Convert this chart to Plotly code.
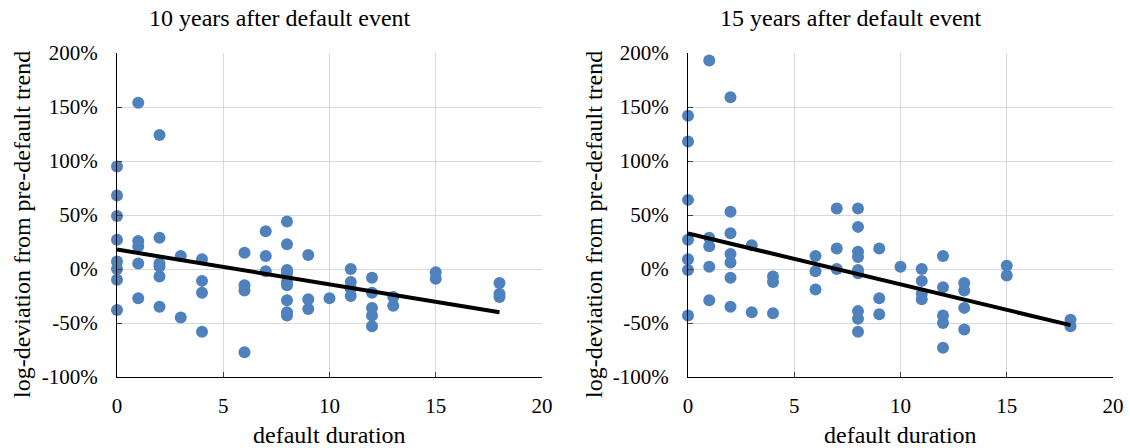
import plotly.graph_objects as go

# ---------------- data (percent) ----------------
x10 = [0]*8 + [1]*5 + [2]*6 + [3]*2 + [4]*4 + [6]*4 + [7]*3 + [8]*9 + [9]*3 + [10] + [11]*4 + [12]*5 + [13]*2 + [15]*2 + [18]*3
y10 = [95, 68, 49, 27, 7, 0, -10, -38,
       154, 26, 21, 5, -27,
       124, 29, 5, 2, -7, -35,
       12, -45,
       9, -11, -22, -58,
       15, -15, -20, -77,
       35, 12, -2,
       44, 23, -1, -4, -12, -15, -29, -40, -43,
       13, -28, -37,
       -27,
       0, -12, -18, -25,
       -8, -22, -36, -43, -53,
       -26, -34,
       -3, -9,
       -13, -23, -26]

x15 = [0]*7 + [1]*5 + [2]*7 + [3]*2 + [4]*3 + [6]*3 + [7]*3 + [8]*9 + [9]*3 + [10] + [11]*4 + [12]*5 + [13]*4 + [15]*2 + [18]*2
y15 = [142, 118, 64, 27, 9, -1, -43,
       193, 29, 21, 2, -29,
       159, 53, 33, 14, 6, -8, -35,
       22, -40,
       -7, -12, -41,
       12, -2, -19,
       56, 19, 0,
       56, 39, 16, 11, -1, -4, -39, -46, -58,
       19, -27, -42,
       2,
       0, -11, -23, -28,
       12, -17, -43, -50, -73,
       -13, -20, -36, -56,
       3, -6,
       -47, -53]

trend_x = [0, 18]
trend10 = [18, -40]
trend15 = [33, -52]

titles = ["10 years after default event", "15 years after default event"]
x_title = "default duration"
y_title = "log-deviation from pre-default trend"
x_ticks = [0, 5, 10, 15, 20]
x_ticklabels = ["0", "5", "10", "15", "20"]
y_ticks = [-100, -50, 0, 50, 100, 150, 200]
y_ticklabels = ["-100%", "-50%", "0%", "50%", "100%", "150%", "200%"]

# ---------------- style ----------------
FONT = "Liberation Serif"
DOT = "#4F81BD"
GRID = "#D9D9D9"
W, H = 1130, 448

fig = go.Figure()
for xs, ys, tr, xa, ya in [(x10, y10, trend10, "x", "y"), (x15, y15, trend15, "x2", "y2")]:
    fig.add_trace(go.Scatter(x=xs, y=ys, mode="markers", xaxis=xa, yaxis=ya,
                             marker=dict(color=DOT, size=12, line=dict(width=0)),
                             cliponaxis=False, showlegend=False))
    fig.add_trace(go.Scatter(x=trend_x, y=tr, mode="lines", xaxis=xa, yaxis=ya,
                             line=dict(color="black", width=4),
                             cliponaxis=False, showlegend=False))

ydom = [(H - 377) / H, (H - 53) / H]
xdoms = [[117 / W, 542 / W], [688 / W, 1113 / W]]

fig.update_layout(width=W, height=H, autosize=False,
                  margin=dict(l=0, r=0, t=0, b=0, pad=0, autoexpand=False),
                  paper_bgcolor="white", plot_bgcolor="white", showlegend=False,
                  font=dict(family=FONT, size=21, color="black"))

for i, suf in enumerate(["", "2"]):
    fig.layout["xaxis" + suf] = dict(domain=xdoms[i], range=[0, 20], anchor="y" + suf,
                                     tickmode="array", tickvals=x_ticks, ticktext=x_ticklabels)
    fig.layout["yaxis" + suf] = dict(domain=ydom, range=[-100, 200], anchor="x" + suf,
                                     tickmode="array", tickvals=y_ticks, ticktext=y_ticklabels)

common = dict(showgrid=True, gridcolor=GRID, gridwidth=1, zeroline=False,
              showline=True, linecolor="black", linewidth=1, automargin=False,
              ticks="inside", ticklen=5, tickcolor="#404040",
              tickfont=dict(family=FONT, size=21, color="black"))
fig.update_xaxes(**common, ticklabelstandoff=10)
fig.update_yaxes(**common, ticklabelstandoff=14)

ann = []
title_x = [280 / W, 851 / W]
ytitle_x = [22 / W, 594 / W]
for i in range(2):
    ann.append(dict(text=titles[i], x=title_x[i], y=1 - 18 / H, xref="paper", yref="paper",
                    xanchor="center", yanchor="middle", showarrow=False,
                    font=dict(family=FONT, size=24, color="black")))
    ann.append(dict(text=x_title, x=sum(xdoms[i]) / 2, y=1 - 435 / H, xref="paper", yref="paper",
                    xanchor="center", yanchor="middle", showarrow=False,
                    font=dict(family=FONT, size=24, color="black")))
    ann.append(dict(text=y_title, x=ytitle_x[i], y=1 - 225 / H, xref="paper", yref="paper",
                    xanchor="center", yanchor="middle", showarrow=False, textangle=-90,
                    font=dict(family=FONT, size=24, color="black")))
fig.update_layout(annotations=ann)

fig.write_html("out.html")
